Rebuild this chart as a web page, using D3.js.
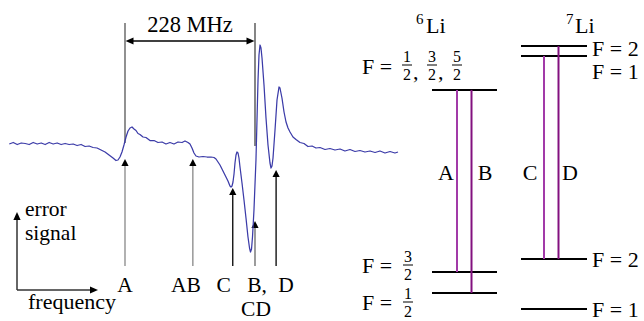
<!DOCTYPE html>
<html><head><meta charset="utf-8">
<script src="https://cdn.jsdelivr.net/npm/d3@7/dist/d3.min.js"></script>
<style>body{margin:0;background:#fff}svg{display:block}</style>
</head><body><svg id="c" width="644" height="321"></svg>
<script>
// ---- data: error signal trace (frequency in MHz relative to line A, signal in arb. units)
const freqMHz = [-203,-196,-189,-182,-175,-168,-161,-154,-147,-140,-133,-126,-119,-112,-105,-98,-91,-84,-77,-70,-63,-56,-49,-42,-35,-28,-21,-15.8,-12.3,-8.8,-5.3,-1.8,1.8,5.3,8.8,12.3,15.8,19.3,22.8,26.3,31.6,36.8,43.8,50.9,57.9,64.9,71.9,78.9,85.9,93,100,105.2,110.5,114,117.5,121,124.5,129.8,136.8,143.8,150.8,156.1,159.6,163.1,166.6,170.1,173.6,177.1,180.6,184.1,185.9,187.7,189.4,191.2,192.9,194.7,196.4,198.2,199.9,201.7,205.2,208.7,212.2,215.7,218.4,220.1,221.9,223.6,226.2,229.7,231.5,233.3,235,236.8,238.5,240.3,243.8,247.3,250.8,254.3,256.1,257.8,259.6,263.1,266.6,270.1,271.8,275.3,278.9,282.4,285.9,289.4,294.6,299.9,306.9,313.9,320.9,328,335,342,350.8,359.5,368.3,377.1,385.8,394.6,403.4,412.1,420.9,429.7,438.5,447.2,456,464.8,473.5,478.8];
const signal = [0.04,0.055,0.035,0.05,0.045,0.035,0.055,0.04,0.05,0.035,0.055,0.04,0.05,0.035,0.045,0.035,0.04,0.025,0.035,0.015,0.02,0.005,0,
 -0.02,-0.04,-0.07,-0.10,-0.125,-0.12,-0.09,-0.04,0.03,0.11,0.17,0.20,
 0.21,0.19,0.175,0.145,0.135,0.11,0.105,0.075,0.075,0.055,0.06,0.04,0.055,0.04,0.06,0.055,0.07,0.055,
 0.04,0,-0.05,-0.08,-0.09,-0.085,-0.09,-0.09,-0.095,-0.11,-0.14,-0.17,-0.21,-0.25,-0.29,-0.33,-0.38,-0.39,-0.38,-0.34,-0.26,-0.15,-0.07,-0.04,-0.05,-0.10,-0.19,
 -0.35,-0.52,-0.70,-0.89,-1.00,-1.04,-1.01,-0.89,-0.62,-0.12,0.28,0.68,0.93,1.03,1.00,0.90,0.63,0.30,0.03,-0.15,-0.20,-0.18,-0.10,0.18,0.48,0.61,0.60,0.50,0.36,0.26,0.20,0.16,
 0.11,0.085,0.055,0.045,0.015,0.02,0.0,0.005,-0.015,-0.005,-0.02,-0.01,-0.03,-0.015,-0.035,-0.025,-0.04,-0.03,-0.045,-0.03,-0.05,-0.035,-0.05,-0.04];
// marked resonances
const markLabels = ["A","AB","C","B,","D"];
const markFreq = [0,119,189,228,265];
const markTip = [-0.11,-0.11,-0.40,-0.73,-0.22];
const spacingMHz = 228;
// energy levels (arbitrary energy units)
const li6Upper = 76.7, li6Lower = [16, 9];          // F=3/2, F=1/2
const li7Upper = [91.3, 88], li7Lower = [20.3, 3.7]; // F=2, F=1
const transitions = ["A","B","C","D"];

const FONT = "'Liberation Serif', 'Times New Roman', Times, 'DejaVu Serif', serif";
const svg = d3.select("#c");
const x = d3.scaleLinear().domain([0, spacingMHz]).range([125, 255]);
const y = d3.scaleLinear().domain([-1.2, 1.2]).range([268, 28]);
const yE = d3.scaleLinear().domain([0, 100]).range([320, 20]);

function txt(xx, yy, s, fs, anchor){
  return svg.append("text").attr("x",xx).attr("y",yy).attr("font-size",fs)
    .attr("font-family",FONT).attr("fill","#000").attr("text-anchor",anchor||"start").text(s);
}
function head(px, py, dir, color, L=8, W=3.6){
  let p;
  if(dir==="up") p=[[px,py],[px-W,py+L],[px+W,py+L]];
  else if(dir==="left") p=[[px,py],[px+L,py-W],[px+L,py+W]];
  else p=[[px,py],[px-L,py-W],[px-L,py+W]];
  svg.append("path").attr("d","M"+p.map(d=>d.join(",")).join("L")+"Z").attr("fill",color);
}

// 228 MHz marker
svg.append("line").attr("x1",x(0)).attr("x2",x(0)).attr("y1",23).attr("y2",y(0.05)).attr("stroke","#555").attr("stroke-width",1.3);
svg.append("line").attr("x1",x(spacingMHz)).attr("x2",x(spacingMHz)).attr("y1",23).attr("y2",y(0.02)).attr("stroke","#444").attr("stroke-width",1.3);
svg.append("line").attr("x1",x(0)+6).attr("x2",x(spacingMHz)-6).attr("y1",41).attr("y2",41).attr("stroke","#000").attr("stroke-width",1.3);
head(x(0)+0.5,41,"left","#000");
head(x(spacingMHz)-0.5,41,"right","#000");
txt((x(0)+x(spacingMHz))/2, 32, spacingMHz+" MHz", 22.5, "middle");

// mark arrows
const markColor = ["#888","#888","#000","#666","#000"];
markFreq.forEach((f,i)=>{
  svg.append("line").attr("x1",x(f)).attr("x2",x(f)).attr("y1",y(markTip[i])+5).attr("y2",y(-1.18)).attr("stroke",markColor[i]).attr("stroke-width",1.3);
  head(x(f),y(markTip[i]),"up","#000",7,3.6);
});

// trace
svg.append("path").datum(freqMHz.map((f,i)=>[f,signal[i]]))
  .attr("fill","none").attr("stroke","#3b3ba8").attr("stroke-width",1.25).attr("stroke-linejoin","round")
  .attr("d", d3.line().x(d=>x(d[0])).y(d=>y(d[1])).curve(d3.curveLinear));

// labels under arrows
const labDx = [0,-7,-9,2,10];
markFreq.forEach((f,i)=>{ txt(x(f)+labDx[i], 292, markLabels[i], 21.5, "middle"); });
txt(x(228)+1, 316, "CD", 21.5, "middle");

// axes sketch
svg.append("line").attr("x1",17).attr("x2",17).attr("y1",290).attr("y2",219).attr("stroke","#333").attr("stroke-width",1.5);
svg.append("line").attr("x1",17).attr("x2",91).attr("y1",290).attr("y2",290).attr("stroke","#333").attr("stroke-width",1.5);
head(17,212,"up","#000",8,3.6);
head(98,290,"right","#000",8,3.6);
txt(25,216,"error",21.5); txt(25,240,"signal",21.5); txt(28,309,"frequency",22);

// ---- energy level diagrams
function level(x1,x2,e){ svg.append("line").attr("x1",x1).attr("x2",x2).attr("y1",yE(e)).attr("y2",yE(e)).attr("stroke","#000").attr("stroke-width",2); }
function frac(cx, barY, num, den, fs=16){
  txt(cx, barY-3, num, fs, "middle");
  svg.append("line").attr("x1",cx-5).attr("x2",cx+5).attr("y1",barY).attr("y2",barY).attr("stroke","#000").attr("stroke-width",1);
  txt(cx, barY+15, den, fs, "middle");
}

// 6Li
txt(416,24,"6",15); txt(426,33,"Li",22);
level(432,497,li6Upper); level(432,497,li6Lower[0]); level(432,497,li6Lower[1]);
txt(362,74,"F =",22);
frac(407,65,"1","2"); txt(413,79,",",22);
frac(432,65,"3","2"); txt(438,79,",",22);
frac(457,65,"5","2");
txt(362,273,"F =",22); frac(408,265,"3","2");
txt(362,310,"F =",22); frac(408,302,"1","2");

// 7Li
txt(566,24,"7",15); txt(575,33,"Li",22);
level(521,587,li7Upper[0]); level(521,587,li7Upper[1]); level(521,587,li7Lower[0]); level(521,587,li7Lower[1]);
txt(592,56,"F = 2",22); txt(592,79,"F = 1",22);
txt(592,267,"F = 2",22); txt(592,317,"F = 1",22);

// transitions
const trX = [457,471.5,544,558.5];
const trFrom = [li6Lower[0], li6Lower[1], li7Lower[0], li7Lower[0]];
const trTo = [li6Upper, li6Upper, li7Upper[1], li7Upper[0]];
const trCol = ["#a23aa8","#82107f","#a23aa8","#82107f"];
transitions.forEach((t,i)=>{
  svg.append("line").attr("x1",trX[i]).attr("x2",trX[i]).attr("y1",yE(trFrom[i])).attr("y2",yE(trTo[i])).attr("stroke",trCol[i]).attr("stroke-width",2);
});
const trLabX = [446,485,530,570];
transitions.forEach((t,i)=>{ txt(trLabX[i],180,t,22,"middle"); });
</script></body></html>
